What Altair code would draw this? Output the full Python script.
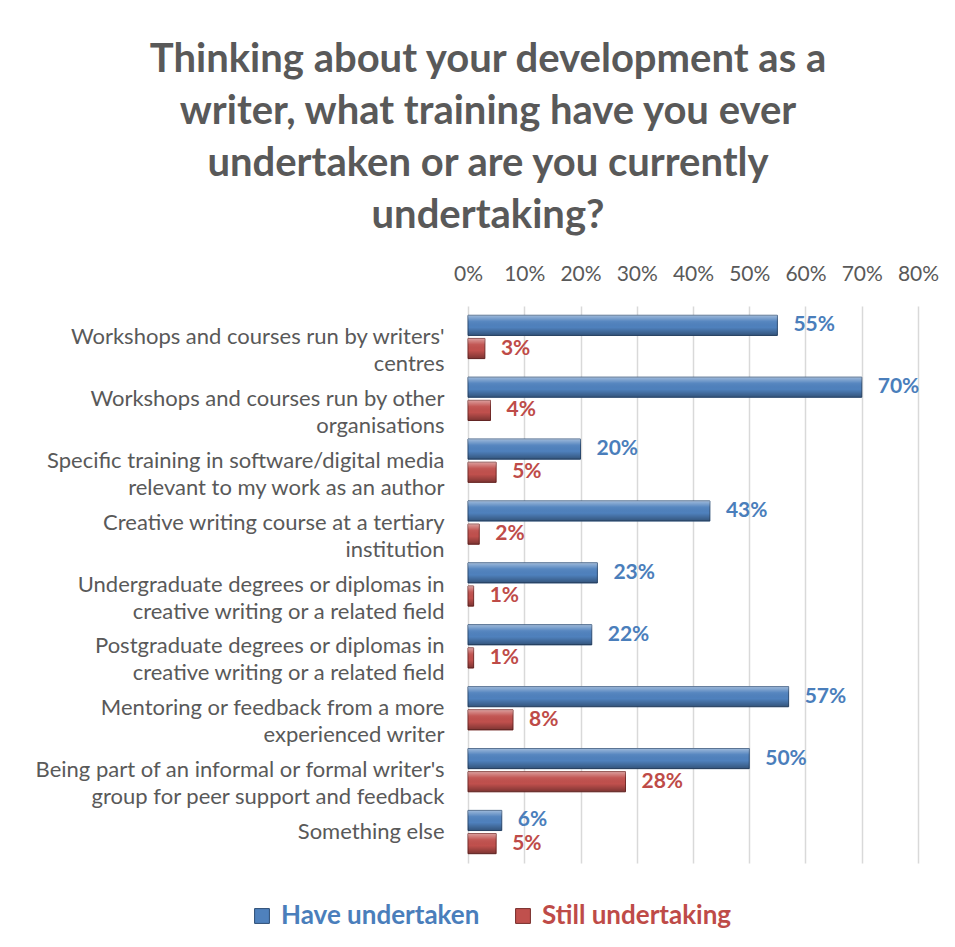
import altair as alt
import pandas as pd

categories = [
    "Workshops and courses run by writers'\ncentres",
    "Workshops and courses run by other\norganisations",
    "Specific training in software/digital media\nrelevant to my work as an author",
    "Creative writing course at a tertiary\ninstitution",
    "Undergraduate degrees or diplomas in\ncreative writing or a related field",
    "Postgraduate degrees or diplomas in\ncreative writing or a related field",
    "Mentoring or feedback from a more\nexperienced writer",
    "Being part of an informal or formal writer's\ngroup for peer support and feedback",
    "Something else",
]
series = ["Have undertaken", "Still undertaking"]
have_undertaken = [0.55, 0.70, 0.20, 0.43, 0.23, 0.22, 0.57, 0.50, 0.06]
still_undertaking = [0.03, 0.04, 0.05, 0.02, 0.01, 0.01, 0.08, 0.28, 0.05]
x_ticks = [0, 0.1, 0.2, 0.3, 0.4, 0.5, 0.6, 0.7, 0.8]
title_lines = [
    "Thinking about your development as a",
    "writer, what training have you ever",
    "undertaken or are you currently",
    "undertaking?",
]

BLUE = "#4F81BD"
RED = "#C0504D"
BLUE_TXT = "#4A7EBB"
RED_TXT = "#BE4B48"
GRAY = "#595959"
FONT = "Lato"

rows = []
for c, v in zip(categories, have_undertaken):
    rows.append({"category": c, "series": series[0], "value": v})
for c, v in zip(categories, still_undertaking):
    rows.append({"category": c, "series": series[1], "value": v})
df = pd.DataFrame(rows)

y_enc = alt.Y(
    "category:N",
    sort=categories,
    scale=alt.Scale(paddingInner=0.30, paddingOuter=0.15),
    axis=alt.Axis(
        title=None, ticks=False, domain=False, labelPadding=24,
        labelFontSize=22, labelColor=GRAY, labelFont=FONT,
        labelLineHeight=27, labelLimit=700,
        labelExpr="split(datum.label, '\\n')",
    ),
)
yoff_enc = alt.YOffset(
    "series:N", scale=alt.Scale(domain=series, paddingInner=0.13)
)
x_enc = alt.X(
    "value:Q",
    scale=alt.Scale(domain=[0, 0.8]),
    axis=alt.Axis(
        orient="top", format=".0%", values=x_ticks, title=None,
        ticks=False, domain=False, grid=True, gridColor="#D9D9D9",
        gridWidth=1.5, labelFontSize=21, labelColor=GRAY, labelFont=FONT,
        labelPadding=22, labelOverlap=False, labelFlush=False,
    ),
)

base = alt.Chart(df)

bar_have = base.transform_filter(alt.datum.series == series[0]).mark_bar(
    stroke="#2C4D75", strokeWidth=1
).encode(
    y=y_enc, yOffset=yoff_enc, x=x_enc,
    color=alt.Color(
        "series:N",
        scale=alt.Scale(domain=[series[0]], range=[BLUE]),
        legend=alt.Legend(
            title=None, orient="none", legendX=-219, legendY=597,
            symbolType="square", symbolSize=220, symbolStrokeColor="#2C4D75",
            symbolStrokeWidth=1, labelFontSize=26, labelFont=FONT,
            labelFontWeight="bold", labelColor=BLUE_TXT, labelOffset=6,
            labelLimit=400,
        ),
    ),
)

bar_still = base.transform_filter(alt.datum.series == series[1]).mark_bar(
    stroke="#772C2A", strokeWidth=1
).encode(
    y=y_enc, yOffset=yoff_enc, x=x_enc,
    color=alt.Color(
        "series:N",
        scale=alt.Scale(domain=[series[1]], range=[RED]),
        legend=alt.Legend(
            title=None, orient="none", legendX=42, legendY=597,
            symbolType="square", symbolSize=220, symbolStrokeColor="#772C2A",
            symbolStrokeWidth=1, labelFontSize=26, labelFont=FONT,
            labelFontWeight="bold", labelColor=RED_TXT, labelOffset=6,
            labelLimit=400,
        ),
    ),
)

shade = base.mark_bar(
    color=alt.Gradient(
        gradient="linear",
        stops=[
            alt.GradientStop(color="rgba(255,255,255,0.45)", offset=0),
            alt.GradientStop(color="rgba(255,255,255,0.05)", offset=0.3),
            alt.GradientStop(color="rgba(0,0,0,0.0)", offset=0.6),
            alt.GradientStop(color="rgba(0,0,0,0.35)", offset=1),
        ],
        x1=0, x2=0, y1=0, y2=1,
    )
).encode(y=y_enc, yOffset=yoff_enc, x=x_enc)

labels = base.mark_text(
    align="left", baseline="middle", dx=16, fontSize=21,
    fontWeight="bold", font=FONT,
).encode(
    y=y_enc, yOffset=yoff_enc, x=x_enc,
    text=alt.Text("value:Q", format=".0%"),
    color=alt.Color("series:N", scale=alt.Scale(domain=series, range=[BLUE_TXT, RED_TXT]), legend=None),
)

chart = alt.layer(bar_have, bar_still, shade, labels).resolve_scale(
    color="independent"
).properties(
    width=450,
    height=557,
    padding={"left": 25, "top": 32, "right": 5, "bottom": 5},
    title=alt.TitleParams(
        text=title_lines, fontSize=40, font=FONT, fontWeight="bold",
        color=GRAY, lineHeight=52, anchor="middle", offset=27, dx=-205,
    ),
).configure_view(stroke=None)

chart.save("out.html", embed_options={"renderer": "svg", "actions": False})
